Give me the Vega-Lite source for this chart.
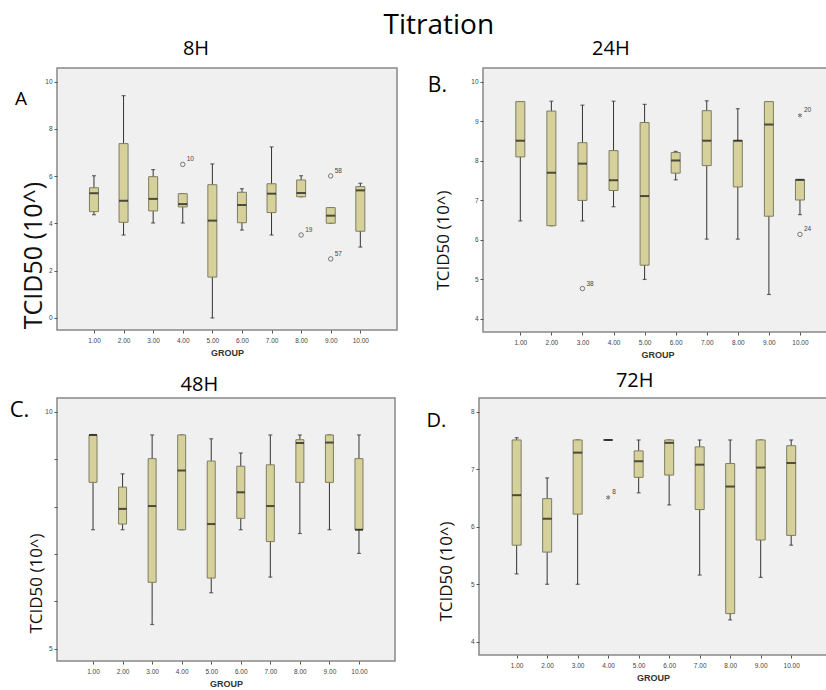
{
"$schema": "https://vega.github.io/schema/vega-lite/v6.json",
"background": "white",
"padding": {"left": 8, "top": 12, "right": 0, "bottom": 0},
"title": {"text": "Titration", "fontSize": 28, "anchor": "middle", "frame": "bounds", "dx": 18, "offset": -1},
"config": {
  "title": {"font": "Open Sans", "fontWeight": "normal", "color": "#000"},
  "view": {"fill": "#f0f0f0", "stroke": "#888", "strokeWidth": 1.5},
  "axis": {"domain": false, "grid": false, "ticks": true, "tickColor": "#555", "tickSize": 3, "labelFont": "Liberation Sans", "labelFontSize": 6.5, "labelColor": "#444", "labelPadding": 2, "labelOverlap": false},
  "axisY": {"titleFont": "Open Sans", "titleFontWeight": "normal", "titleColor": "#111", "titleFontSize": 17, "titleBaseline": "bottom", "format": "d"},
  "axisX": {"titleFont": "Liberation Sans", "titleFontSize": 9, "titleFontWeight": "bold", "titleColor": "#333", "labelPadding": 4, "titlePadding": 5, "labelOverlap": false, "labelFlush": false}
},
"datasets": {
  "h8": [
    {"group": 1, "lo": 4.37, "q1": 4.50, "med": 5.28, "q3": 5.51, "hi": 6.02},
    {"group": 2, "lo": 3.51, "q1": 4.05, "med": 4.96, "q3": 7.38, "hi": 9.41},
    {"group": 3, "lo": 4.02, "q1": 4.53, "med": 5.04, "q3": 5.98, "hi": 6.28},
    {"group": 4, "lo": 4.02, "q1": 4.70, "med": 4.82, "q3": 5.26, "hi": 5.26},
    {"group": 5, "lo": 0.00, "q1": 1.73, "med": 4.12, "q3": 5.64, "hi": 6.52},
    {"group": 6, "lo": 3.72, "q1": 4.03, "med": 4.78, "q3": 5.32, "hi": 5.47},
    {"group": 7, "lo": 3.51, "q1": 4.46, "med": 5.26, "q3": 5.68, "hi": 7.24},
    {"group": 8, "lo": 5.13, "q1": 5.13, "med": 5.29, "q3": 5.84, "hi": 6.02},
    {"group": 9, "lo": 4.01, "q1": 4.01, "med": 4.33, "q3": 4.67, "hi": 4.67},
    {"group": 10, "lo": 3.00, "q1": 3.67, "med": 5.40, "q3": 5.56, "hi": 5.70}
  ],
  "o8": [
    {"group": 4, "value": 6.50, "label": "10", "kind": "o"},
    {"group": 8, "value": 3.51, "label": "19", "kind": "o"},
    {"group": 9, "value": 6.01, "label": "58", "kind": "o"},
    {"group": 9, "value": 2.50, "label": "57", "kind": "o"}
  ],
  "h24": [
    {"group": 1, "lo": 6.48, "q1": 8.10, "med": 8.51, "q3": 9.50, "hi": 9.50},
    {"group": 2, "lo": 6.36, "q1": 6.36, "med": 7.70, "q3": 9.26, "hi": 9.51},
    {"group": 3, "lo": 6.48, "q1": 7.00, "med": 7.93, "q3": 8.46, "hi": 9.41},
    {"group": 4, "lo": 6.84, "q1": 7.25, "med": 7.51, "q3": 8.26, "hi": 9.51},
    {"group": 5, "lo": 5.00, "q1": 5.36, "med": 7.11, "q3": 8.97, "hi": 9.43},
    {"group": 6, "lo": 7.52, "q1": 7.69, "med": 8.01, "q3": 8.21, "hi": 8.24},
    {"group": 7, "lo": 6.02, "q1": 7.88, "med": 8.51, "q3": 9.27, "hi": 9.52},
    {"group": 8, "lo": 6.02, "q1": 7.34, "med": 8.51, "q3": 8.51, "hi": 9.32},
    {"group": 9, "lo": 4.62, "q1": 6.60, "med": 8.92, "q3": 9.50, "hi": 9.50},
    {"group": 10, "lo": 6.64, "q1": 7.01, "med": 7.52, "q3": 7.52, "hi": 7.52}
  ],
  "o24": [
    {"group": 3, "value": 4.77, "label": "38", "kind": "o"},
    {"group": 10, "value": 9.15, "label": "20", "kind": "*"},
    {"group": 10, "value": 6.14, "label": "24", "kind": "o"}
  ],
  "h48": [
    {"group": 1, "lo": 7.51, "q1": 8.51, "med": 9.51, "q3": 9.51, "hi": 9.51},
    {"group": 2, "lo": 7.51, "q1": 7.63, "med": 7.95, "q3": 8.41, "hi": 8.69},
    {"group": 3, "lo": 5.51, "q1": 6.40, "med": 8.01, "q3": 9.01, "hi": 9.51},
    {"group": 4, "lo": 7.51, "q1": 7.51, "med": 8.76, "q3": 9.51, "hi": 9.51},
    {"group": 5, "lo": 6.18, "q1": 6.49, "med": 7.63, "q3": 8.96, "hi": 9.43},
    {"group": 6, "lo": 7.51, "q1": 7.75, "med": 8.30, "q3": 8.85, "hi": 9.13},
    {"group": 7, "lo": 6.51, "q1": 7.26, "med": 8.01, "q3": 8.88, "hi": 9.51},
    {"group": 8, "lo": 7.43, "q1": 8.51, "med": 9.34, "q3": 9.41, "hi": 9.51},
    {"group": 9, "lo": 7.51, "q1": 8.51, "med": 9.35, "q3": 9.51, "hi": 9.51},
    {"group": 10, "lo": 7.01, "q1": 7.51, "med": 7.51, "q3": 9.01, "hi": 9.51}
  ],
  "h72": [
    {"group": 1, "lo": 5.18, "q1": 5.68, "med": 6.55, "q3": 7.51, "hi": 7.55},
    {"group": 2, "lo": 5.00, "q1": 5.56, "med": 6.14, "q3": 6.49, "hi": 6.85},
    {"group": 3, "lo": 5.00, "q1": 6.22, "med": 7.29, "q3": 7.51, "hi": 7.51},
    {"group": 4, "lo": 7.51, "q1": 7.51, "med": 7.51, "q3": 7.51, "hi": 7.51},
    {"group": 5, "lo": 6.59, "q1": 6.86, "med": 7.14, "q3": 7.32, "hi": 7.51},
    {"group": 6, "lo": 6.38, "q1": 6.90, "med": 7.46, "q3": 7.51, "hi": 7.51},
    {"group": 7, "lo": 5.16, "q1": 6.30, "med": 7.08, "q3": 7.39, "hi": 7.51},
    {"group": 8, "lo": 4.38, "q1": 4.49, "med": 6.70, "q3": 7.10, "hi": 7.51},
    {"group": 9, "lo": 5.12, "q1": 5.77, "med": 7.03, "q3": 7.51, "hi": 7.51},
    {"group": 10, "lo": 5.68, "q1": 5.85, "med": 7.11, "q3": 7.41, "hi": 7.51}
  ],
  "o72": [
    {"group": 4, "value": 6.51, "label": "8", "kind": "*"}
  ]
},
"spacing": 10,
"vconcat": [
 {"spacing": 29, "hconcat": [
  {"title": {"text": "8H", "fontSize": 20, "anchor": "middle", "frame": "bounds", "dx": -10, "offset": 8},
   "vconcat": [{
    "title": {"text": "A", "orient": "left", "anchor": "end", "angle": 0, "align": "right", "baseline": "top", "fontSize": 19, "offset": -18, "dy": 22},
    "width": 340, "height": 262,
    "data": {"name": "h8"},
    "encoding": {"x": {"field": "group", "type": "quantitative", "scale": {"domain": [-0.08, 11.07], "nice": false, "zero": false}, "axis": {"values": [1,2,3,4,5,6,7,8,9,10], "format": ".2f", "labelOverlap": false, "title": "GROUP"}}},
    "layer": [
     {"mark": {"type": "rule", "color": "#333", "strokeWidth": 1},
      "encoding": {
       "y": {"field": "lo", "type": "quantitative", "scale": {"domain": [-0.51, 10.58], "nice": false, "zero": false}, "axis": {"values": [0,2,4,6,8,10], "title": "TCID50 (10^)", "titleFontSize": 25, "titleX": -11, "titleY": 187}},
       "y2": {"field": "hi"}}},
     {"mark": {"type": "tick", "orient": "horizontal", "color": "#333", "size": 4, "thickness": 1.2},
      "encoding": {"y": {"field": "lo", "type": "quantitative"}}},
     {"mark": {"type": "tick", "orient": "horizontal", "color": "#333", "size": 4, "thickness": 1.2},
      "encoding": {"y": {"field": "hi", "type": "quantitative"}}},
     {"mark": {"type": "bar", "orient": "vertical", "size": 9, "fill": "#d6d19a", "stroke": "#7d7d62", "strokeWidth": 1},
      "encoding": {"y": {"field": "q1", "type": "quantitative"}, "y2": {"field": "q3"}}},
     {"mark": {"type": "tick", "orient": "horizontal", "color": "#111", "size": 9, "thickness": 2},
      "encoding": {"y": {"field": "med", "type": "quantitative"}}},
     {"data": {"name": "o8"}, "mark": {"type": "point", "filled": false, "stroke": "#444", "strokeWidth": 1, "size": 20},
      "encoding": {"y": {"field": "value", "type": "quantitative"},
       "shape": {"field": "kind", "type": "nominal", "scale": {"domain": ["o", "*"], "range": ["circle", "M0,-1L0,1M-0.87,-0.5L0.87,0.5M-0.87,0.5L0.87,-0.5"]}, "legend": null}}},
     {"data": {"name": "o8"}, "mark": {"type": "text", "align": "left", "dx": 4, "dy": -5, "fontSize": 6.5, "font": "Liberation Sans", "fill": "#444"},
      "encoding": {"y": {"field": "value", "type": "quantitative"}, "text": {"field": "label"}}}
    ]
   }]
  },
  {"title": {"text": "24H", "fontSize": 20, "anchor": "middle", "frame": "bounds", "dx": -19, "offset": 8},
   "vconcat": [{
    "title": {"text": "B.", "orient": "left", "anchor": "end", "angle": 0, "align": "right", "baseline": "top", "fontSize": 21, "offset": -32, "dy": 7},
    "width": 349, "height": 264,
    "data": {"name": "h24"},
    "encoding": {"x": {"field": "group", "type": "quantitative", "scale": {"domain": [-0.04, 10.87], "nice": false, "zero": false}, "axis": {"values": [1,2,3,4,5,6,7,8,9,10], "format": ".2f", "labelOverlap": false, "title": "GROUP"}}},
    "layer": [
     {"mark": {"type": "rule", "color": "#333", "strokeWidth": 1},
      "encoding": {
       "y": {"field": "lo", "type": "quantitative", "scale": {"domain": [3.67, 10.35], "nice": false, "zero": false}, "axis": {"values": [4,5,6,7,8,9,10], "title": "TCID50 (10^)", "titleX": -31, "titleY": 172}},
       "y2": {"field": "hi"}}},
     {"mark": {"type": "tick", "orient": "horizontal", "color": "#333", "size": 4, "thickness": 1.2},
      "encoding": {"y": {"field": "lo", "type": "quantitative"}}},
     {"mark": {"type": "tick", "orient": "horizontal", "color": "#333", "size": 4, "thickness": 1.2},
      "encoding": {"y": {"field": "hi", "type": "quantitative"}}},
     {"mark": {"type": "bar", "orient": "vertical", "size": 9, "fill": "#d6d19a", "stroke": "#7d7d62", "strokeWidth": 1},
      "encoding": {"y": {"field": "q1", "type": "quantitative"}, "y2": {"field": "q3"}}},
     {"mark": {"type": "tick", "orient": "horizontal", "color": "#111", "size": 9, "thickness": 2},
      "encoding": {"y": {"field": "med", "type": "quantitative"}}},
     {"data": {"name": "o24"}, "mark": {"type": "point", "filled": false, "stroke": "#444", "strokeWidth": 1, "size": 20},
      "encoding": {"y": {"field": "value", "type": "quantitative"},
       "shape": {"field": "kind", "type": "nominal", "scale": {"domain": ["o", "*"], "range": ["circle", "M0,-1L0,1M-0.87,-0.5L0.87,0.5M-0.87,0.5L0.87,-0.5"]}, "legend": null}}},
     {"data": {"name": "o24"}, "mark": {"type": "text", "align": "left", "dx": 4, "dy": -5, "fontSize": 6.5, "font": "Liberation Sans", "fill": "#444"},
      "encoding": {"y": {"field": "value", "type": "quantitative"}, "text": {"field": "label"}}}
    ]
   }]
  }
 ]},
 {"spacing": 29, "hconcat": [
  {"title": {"text": "48H", "fontSize": 20, "anchor": "middle", "frame": "bounds", "dx": -3, "offset": 2},
   "vconcat": [{
    "title": {"text": "C.", "orient": "left", "anchor": "end", "angle": 0, "align": "right", "baseline": "top", "fontSize": 22, "offset": -22, "dy": 2},
    "width": 338, "height": 263,
    "data": {"name": "h48"},
    "encoding": {"x": {"field": "group", "type": "quantitative", "scale": {"domain": [-0.05, 11.05], "nice": false, "zero": false}, "axis": {"values": [1,2,3,4,5,6,7,8,9,10], "format": ".2f", "labelOverlap": false, "title": "GROUP"}}},
    "layer": [
     {"mark": {"type": "rule", "color": "#333", "strokeWidth": 1},
      "encoding": {
       "y": {"field": "lo", "type": "quantitative", "scale": {"domain": [4.74, 10.29], "nice": false, "zero": false}, "axis": {"values": [5,6,7,8,9,10], "labelExpr": "datum.value == 5 || datum.value == 10 ? datum.label : ''", "title": "TCID50 (10^)", "titleX": -12, "titleY": 185}},
       "y2": {"field": "hi"}}},
     {"mark": {"type": "tick", "orient": "horizontal", "color": "#333", "size": 4, "thickness": 1.2},
      "encoding": {"y": {"field": "lo", "type": "quantitative"}}},
     {"mark": {"type": "tick", "orient": "horizontal", "color": "#333", "size": 4, "thickness": 1.2},
      "encoding": {"y": {"field": "hi", "type": "quantitative"}}},
     {"mark": {"type": "bar", "orient": "vertical", "size": 8, "fill": "#d6d19a", "stroke": "#7d7d62", "strokeWidth": 1},
      "encoding": {"y": {"field": "q1", "type": "quantitative"}, "y2": {"field": "q3"}}},
     {"mark": {"type": "tick", "orient": "horizontal", "color": "#111", "size": 8, "thickness": 2},
      "encoding": {"y": {"field": "med", "type": "quantitative"}}}
    ]
   }]
  },
  {"title": {"text": "72H", "fontSize": 20, "anchor": "middle", "frame": "bounds", "dx": 8, "offset": 6},
   "vconcat": [{
    "title": {"text": "D.", "orient": "left", "anchor": "end", "angle": 0, "align": "right", "baseline": "top", "fontSize": 20, "offset": -29, "dy": 13},
    "width": 348, "height": 257,
    "data": {"name": "h72"},
    "encoding": {"x": {"field": "group", "type": "quantitative", "scale": {"domain": [-0.07, 11.01], "nice": false, "zero": false}, "axis": {"values": [1,2,3,4,5,6,7,8,9,10], "format": ".2f", "labelOverlap": false, "title": "GROUP"}}},
    "layer": [
     {"mark": {"type": "rule", "color": "#333", "strokeWidth": 1},
      "encoding": {
       "y": {"field": "lo", "type": "quantitative", "scale": {"domain": [3.77, 8.24], "nice": false, "zero": false}, "axis": {"values": [4,5,6,7,8], "title": "TCID50 (10^)", "titleX": -24, "titleY": 173}},
       "y2": {"field": "hi"}}},
     {"mark": {"type": "tick", "orient": "horizontal", "color": "#333", "size": 4, "thickness": 1.2},
      "encoding": {"y": {"field": "lo", "type": "quantitative"}}},
     {"mark": {"type": "tick", "orient": "horizontal", "color": "#333", "size": 4, "thickness": 1.2},
      "encoding": {"y": {"field": "hi", "type": "quantitative"}}},
     {"mark": {"type": "bar", "orient": "vertical", "size": 9, "fill": "#d6d19a", "stroke": "#7d7d62", "strokeWidth": 1},
      "encoding": {"y": {"field": "q1", "type": "quantitative"}, "y2": {"field": "q3"}}},
     {"mark": {"type": "tick", "orient": "horizontal", "color": "#111", "size": 9, "thickness": 2},
      "encoding": {"y": {"field": "med", "type": "quantitative"}}},
     {"data": {"name": "o72"}, "mark": {"type": "point", "filled": false, "stroke": "#444", "strokeWidth": 1, "size": 20},
      "encoding": {"y": {"field": "value", "type": "quantitative"},
       "shape": {"field": "kind", "type": "nominal", "scale": {"domain": ["o", "*"], "range": ["circle", "M0,-1L0,1M-0.87,-0.5L0.87,0.5M-0.87,0.5L0.87,-0.5"]}, "legend": null}}},
     {"data": {"name": "o72"}, "mark": {"type": "text", "align": "left", "dx": 4, "dy": -5, "fontSize": 6.5, "font": "Liberation Sans", "fill": "#444"},
      "encoding": {"y": {"field": "value", "type": "quantitative"}, "text": {"field": "label"}}}
    ]
   }]
  }
 ]}
]
}
